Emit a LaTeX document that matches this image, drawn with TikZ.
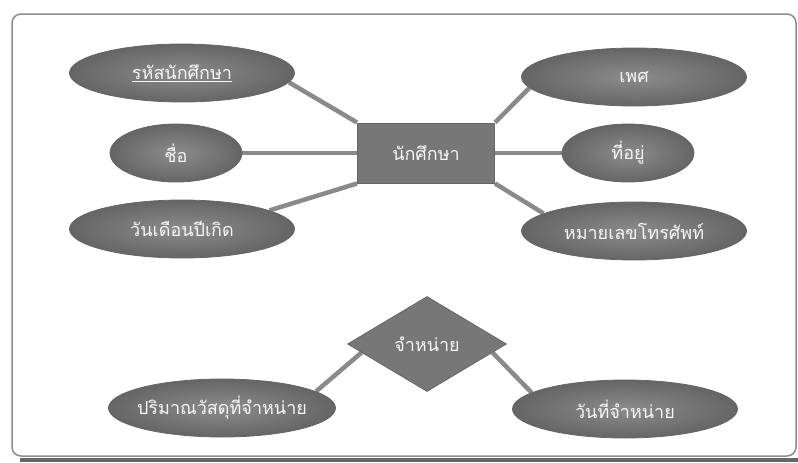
\documentclass[tikz,border=0pt]{standalone}
\usepackage{fontspec}
\newfontfamily\thaifont[Script=Thai]{Loma}
\usetikzlibrary{shapes.geometric,backgrounds,calc}
\definecolor{nodefill}{HTML}{777777}
\definecolor{nodeedge}{HTML}{666666}
\definecolor{nodelight}{HTML}{8C8C8C}
\definecolor{linkgray}{HTML}{8A8A8A}
\definecolor{framegray}{HTML}{8C8C8C}
\definecolor{txt}{HTML}{F6F6F6}
\tikzset{
  attr/.style={ellipse, inner sep=0pt, draw=nodeedge, line width=0.8pt,
    shading=radial, inner color=nodelight, outer color=nodefill!85!black,
    text=txt, font=\thaifont\fontsize{18}{20}\selectfont},
  wideattr/.style={attr, minimum width=225pt, minimum height=58pt},
  smallattr/.style={attr, minimum width=132pt, minimum height=58pt},
  entitybox/.style={rectangle, inner sep=0pt, minimum width=137pt, minimum height=60pt,
    fill=nodefill, draw=nodeedge, line width=1pt, text=txt,
    font=\thaifont\fontsize{18}{20}\selectfont},
  relbox/.style={diamond, inner sep=0pt, minimum width=159pt, minimum height=95pt,
    fill=nodefill, draw=nodeedge, line width=0.8pt, text=txt,
    font=\thaifont\fontsize{18}{20}\selectfont},
  link/.style={draw=linkgray, line width=4.5pt},
}
\begin{document}
\begin{tikzpicture}[x=1pt,y=-1pt]
\useasboundingbox (0,0) rectangle (798,463);
% nodes
\node[entitybox] (ent) at (426,153) {นักศึกษา};
\node[wideattr] (sid) at (182,73) {\underline{รหัสนักศึกษา}};
\node[smallattr] (name) at (176,153) {ชื่อ};
\node[wideattr] (dob) at (182,229) {วันเดือนปีเกิด};
\node[wideattr] (sex) at (634,77) {เพศ};
\node[smallattr] (addr) at (628,153) {ที่อยู่};
\node[wideattr, inner xsep=-6pt] (phone) at (634,231) {หมายเลขโทรศัพท์};
\node[relbox] (sell) at (427,344) {จำหน่าย};
\node[wideattr, minimum width=227pt, inner xsep=-14pt] (qty) at (222,408) {ปริมาณวัสดุที่จำหน่าย};
\node[wideattr] (date) at (625,409) {วันที่จำหน่าย};
\coordinate (sellL) at ($(sell.west)!0.18!(sell.south)$);
\coordinate (sellR) at ($(sell.east)!0.18!(sell.south)$);
\begin{scope}[on background layer]
  \fill[white] (0,0) rectangle (798,463);
  \draw[line width=4pt, draw=black!60] (20,460) -- (798,460);
  \draw[framegray, line width=1.5pt, fill=white, rounded corners=9pt] (12,14) rectangle (796,456);
  \draw[link] (sid.-5) -- (ent.north west);
  \draw[link] (name.east) -- (name.east -| ent.west);
  \draw[link] (dob.12) -- (ent.south west);
  \draw[link] (sex.186) -- (ent.north east);
  \draw[link] (addr.west) -- (addr.west -| ent.east);
  \draw[link] (phone.169) -- (ent.south east);
  \draw[link] (qty.10) -- (sellL);
  \draw[link] (date.170) -- (sellR);
\end{scope}
\end{tikzpicture}
\end{document}
